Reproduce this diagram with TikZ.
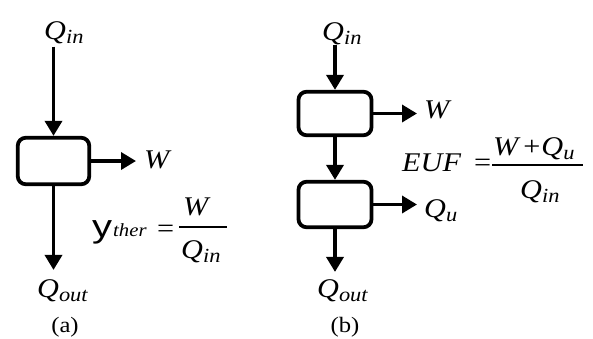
\documentclass[tikz,border=0pt]{standalone}
\usepackage{fontspec}
\setmainfont{Liberation Serif}[FakeStretch=1.12]
\newfontfamily\symsans{Liberation Sans}[FakeStretch=1.25]
\usetikzlibrary{arrows.meta}
% lowered subscript in a smaller size
\newcommand\sbs[1]{\raisebox{-4pt}{\fontsize{20}{20}\selectfont #1}}
\tikzset{
  x=1pt, y=-1pt,
  proc/.style={draw, line width=3.8pt, rounded corners=8pt, inner sep=0pt},
  flow/.style={line width=3.5pt, -{Triangle[length=15pt,width=17pt]}},
  lbl/.style={font=\fontsize{27}{31}\selectfont\itshape, inner sep=0pt, anchor=base west},
  capt/.style={font=\fontsize{22}{26}\selectfont, inner sep=0pt, anchor=base},
  fracbar/.style={line width=1.3pt},
}
\begin{document}
\begin{tikzpicture}
\useasboundingbox (0,0) rectangle (593,338);

% ---------- (a) single process ----------
\node[proc, minimum width=71.5pt, minimum height=46.5pt] (boxA) at (53.5,161) {};
\node[lbl] (qinA) at (44,39) {Q\sbs{in}};
\node[lbl] (wA) at (144,168) {W};
\node[lbl] (qoutA) at (37,297) {Q\sbs{out}};
\node[capt] (capA) at (65,332) {(a)};

\draw[flow, shorten <=3pt] (boxA.north |- qinA.south) -- (boxA.north);
\draw[flow, shorten >=8pt] (boxA.east) -- (boxA.east -| wA.west);
\draw[flow, shorten >=9pt] (boxA.south) -- (boxA.south |- qoutA.north);

% efficiency formula
\node[inner sep=0pt, anchor=base west, font=\fontsize{32}{36}\selectfont\symsans] (eta) at (92,237) {y};
\node[lbl, font=\fontsize{18.5}{22}\selectfont\itshape] (ther) at (113,236) {ther};
\node[lbl, font=\fontsize{27}{31}\selectfont] (eqA) at (157,237) {=};
\coordinate (barAl) at (179,227);
\coordinate (barAr) at (227,227);
\draw[fracbar] (barAl) -- (barAr);
\node[lbl] (numA) at (183,215) {W};
\node[lbl] (denA) at (181,258) {Q\sbs{in}};

% ---------- (b) two processes ----------
\node[proc, minimum width=73pt, minimum height=43.5pt] (boxB1) at (335,113.5) {};
\node[proc, minimum width=73pt, minimum height=45.5pt] (boxB2) at (335,204.5) {};
\node[lbl] (qinB) at (322,40) {Q\sbs{in}};
\node[lbl] (wB) at (424,118) {W};
\node[lbl] (quB) at (424,217) {Q\sbs{u}};
\node[lbl] (qoutB) at (317,297) {Q\sbs{out}};
\node[capt] (capB) at (345,332) {(b)};

\draw[flow] (boxB1.north |- qinB.south) -- (boxB1.north);
\draw[flow, shorten >=7pt] (boxB1.east) -- (boxB1.east -| wB.west);
\draw[flow] (boxB1.south) -- (boxB2.north);
\draw[flow, shorten >=7pt] (boxB2.east) -- (boxB2.east -| quB.west);
\draw[flow, shorten >=7pt] (boxB2.south) -- (boxB2.south |- qoutB.north);

% EUF formula
\node[lbl] (euf) at (402,171) {EUF};
\node[lbl, font=\fontsize{27}{31}\selectfont] (eqB) at (474,171) {=};
\coordinate (barBl) at (492,165);
\coordinate (barBr) at (583,165);
\draw[fracbar] (barBl) -- (barBr);
\node[lbl] (numB) at (493,155) {W\kern5pt{\upshape+}\kern1pt Q\sbs{u}};
\node[lbl] (denB) at (520,198) {Q\sbs{in}};
\end{tikzpicture}
\end{document}
